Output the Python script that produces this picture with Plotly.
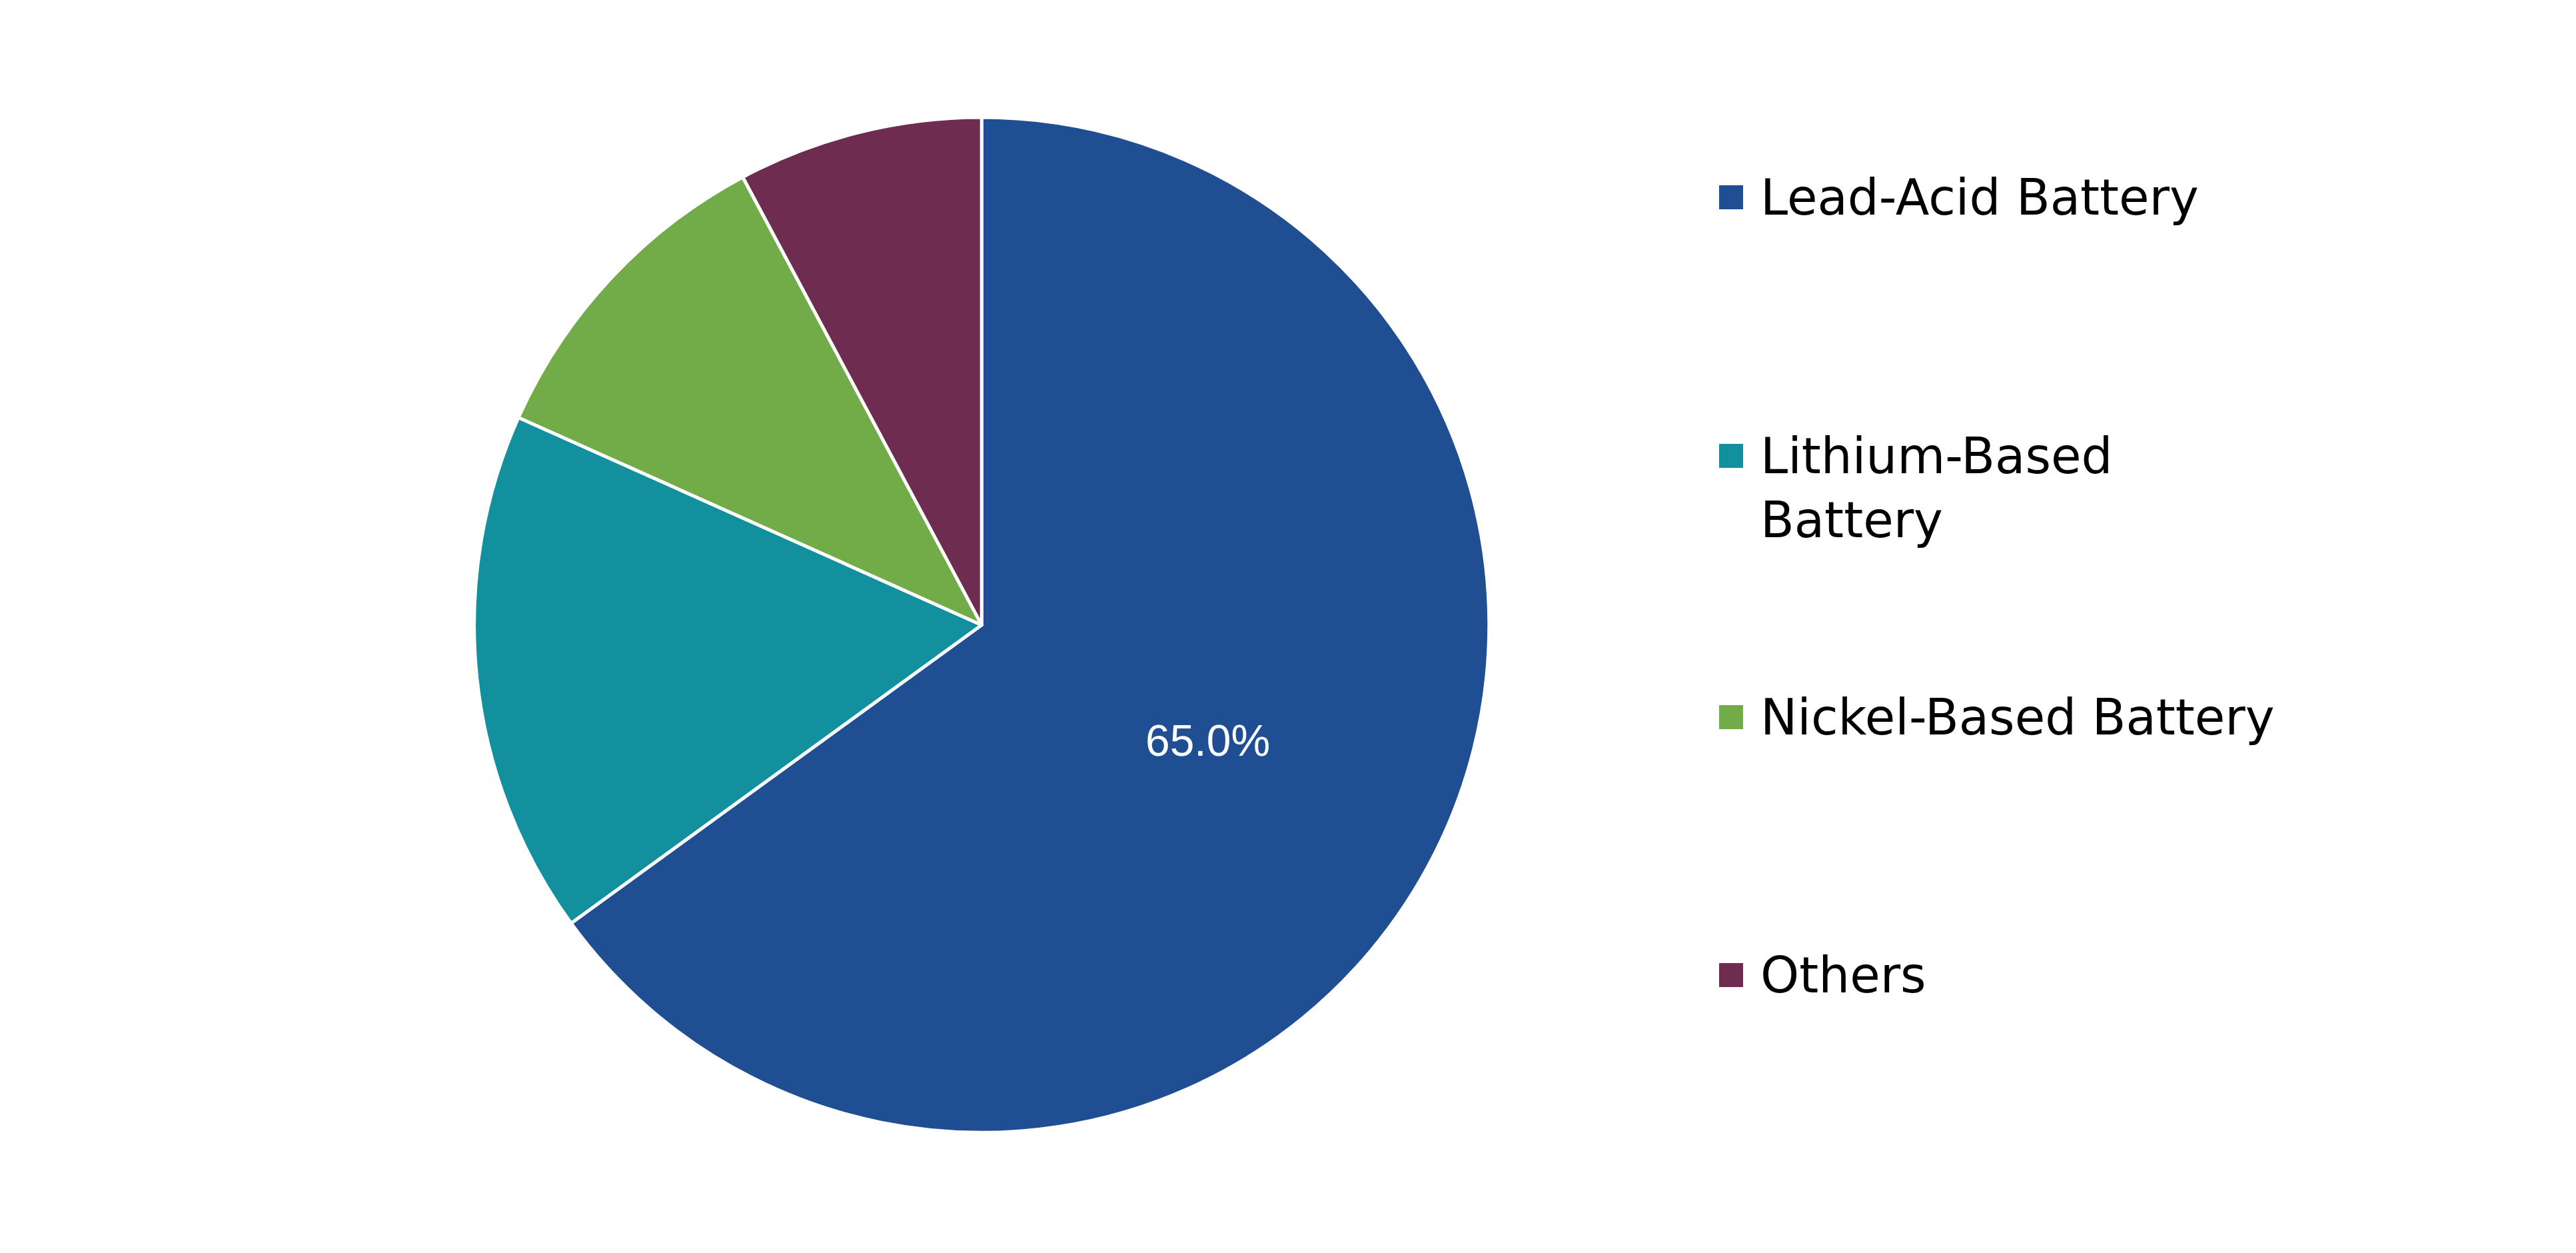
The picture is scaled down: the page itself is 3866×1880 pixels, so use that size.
import plotly.graph_objects as go

labels = ["Lead-Acid Battery", "Lithium-Based Battery", "Nickel-Based Battery", "Others"]
legend_text = ["Lead-Acid Battery", "Lithium-Based<br>Battery", "Nickel-Based Battery", "Others"]
values = [65.0, 16.7, 10.5, 7.8]
colors = ["#1F4E92", "#12909E", "#71AC48", "#6E2C50"]
shown = ["65.0%", "", "", ""]

W, H = 3866, 1880
fig = go.Figure(go.Pie(
    labels=labels, values=values, sort=False, direction="clockwise", rotation=0,
    marker=dict(colors=colors, line=dict(color="white", width=5)),
    text=shown, textinfo="text", textposition="inside",
    insidetextfont=dict(color="white", size=66, family="Liberation Sans"),
    domain=dict(x=[0.182, 0.576], y=[0.1, 0.911]), showlegend=False,
))

ys = [288, 676, 1068, 1455]
for lt, c, y in zip(legend_text, colors, ys):
    fig.add_shape(type="rect", xref="paper", yref="paper",
                  x0=2572 / W, x1=2608 / W, y0=1 - (y + 18) / H, y1=1 - (y - 18) / H,
                  fillcolor=c, line=dict(width=0))
    fig.add_annotation(xref="paper", yref="paper", x=2632 / W, y=1 - (y - 45) / H,
                       xanchor="left", yanchor="top", text=lt, showarrow=False, align="left",
                       font=dict(size=74, family="DejaVu Sans", color="black"))

fig.update_layout(width=W, height=H, margin=dict(l=0, r=0, t=0, b=0),
                  paper_bgcolor="white", plot_bgcolor="white")
fig.write_html("out.html")
